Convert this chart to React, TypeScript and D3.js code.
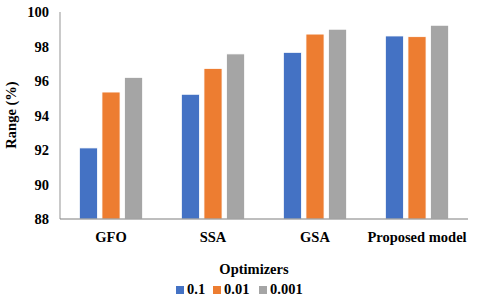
import * as d3 from "d3";

const optimizers = ["GFO", "SSA", "GSA", "Proposed model"];
const seriesNames = ["0.1", "0.01", "0.001"];
const rate01 = [92.12, 95.23, 97.66, 98.61];
const rate001 = [95.36, 96.73, 98.72, 98.57];
const rate0001 = [96.21, 97.57, 99.0, 99.23];
const yTicks = [88, 90, 92, 94, 96, 98, 100];
const colors = ["#4472C4", "#ED7D31", "#A5A5A5"];

const W = 480;
const H = 305;
const margin = { top: 12, right: 12, bottom: 86, left: 60 };
const width = W - margin.left - margin.right;
const height = H - margin.top - margin.bottom;
const font = "Liberation Serif";
const fs = 14.5;

export default function App() {
  const x = d3
    .scaleBand()
    .domain(optimizers)
    .range([0, width])
    .paddingInner(0.38)
    .paddingOuter(0.19);
  const inner = d3
    .scaleBand()
    .domain(seriesNames)
    .range([0, x.bandwidth()])
    .paddingInner(0.2);
  const y = d3.scaleLinear().domain([88, 100]).range([height, 0]);
  const series = [rate01, rate001, rate0001];
  const legendX = [176, 213, 259];

  return (
    <svg
      width={W}
      height={H}
      style={{ position: "absolute", left: 0, top: 0, background: "#fff" }}
      fontFamily={font}
      fontWeight="bold"
      fontSize={fs}
    >
      <g transform={`translate(${margin.left},${margin.top})`}>
        {/* bars */}
        {series.map((vals, si) =>
          vals.map((v, i) => (
            <rect
              key={`${si}-${i}`}
              x={x(optimizers[i])! + inner(seriesNames[si])!}
              y={y(v)}
              width={inner.bandwidth()}
              height={height - y(v)}
              fill={colors[si]}
              stroke="#fff"
              strokeWidth={0.8}
            />
          ))
        )}
        {/* y axis */}
        <line x1={0} x2={0} y1={0} y2={height} stroke="#a6a6a6" strokeWidth={1.2} />
        {yTicks.map((t) => (
          <text key={t} x={-11} y={y(t)} dy="0.35em" textAnchor="end">
            {t}
          </text>
        ))}
        {/* x axis */}
        <line x1={0} x2={width} y1={height} y2={height} stroke="#7f7f7f" strokeWidth={1.2} />
        {optimizers.map((c) => (
          <text key={c} x={x(c)! + x.bandwidth() / 2} y={height + 23} textAnchor="middle">
            {c}
          </text>
        ))}
        <text transform={`translate(-44,103) rotate(-90)`} textAnchor="middle">
          Range (%)
        </text>
        <text x={194} y={height + 55} textAnchor="middle">
          Optimizers
        </text>
      </g>
      {/* legend */}
      {seriesNames.map((name, i) => (
        <g key={name} transform={`translate(${legendX[i]},${H - 11})`}>
          <rect x={0} y={-8} width={8} height={8} fill={colors[i]} />
          <text x={11} y={0}>
            {name}
          </text>
        </g>
      ))}
    </svg>
  );
}
